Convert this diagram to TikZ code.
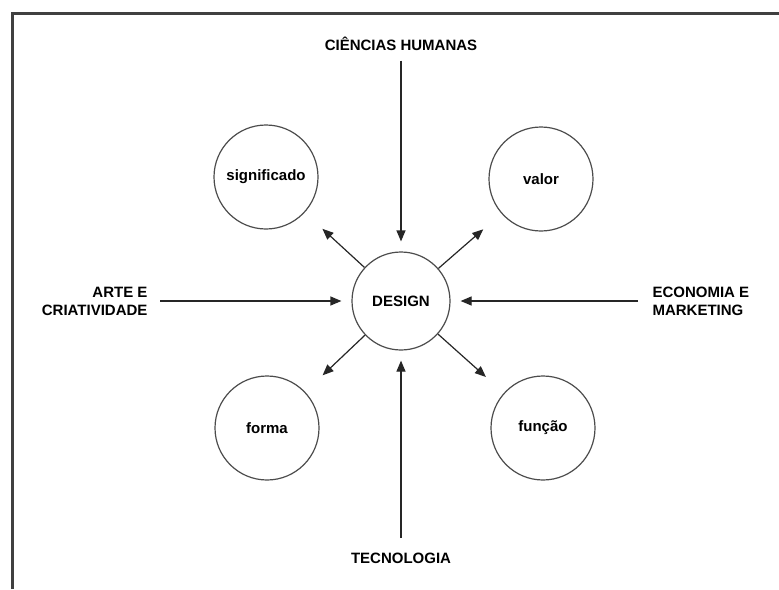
\documentclass[tikz,border=0pt]{standalone}
\usepackage{fontspec}
\setmainfont{Liberation Sans}
\usetikzlibrary{arrows.meta}

\begin{document}
\begin{tikzpicture}[x=1pt, y=-1pt,
	c/.style={circle, draw=black!70, line width=1.2pt, minimum size=104pt, inner sep=0pt, font=\bfseries\fontsize{15}{18}\selectfont},
	t/.style={font=\bfseries\fontsize{15}{18}\selectfont},
	a/.style={-{Triangle[length=11pt, width=9pt]}, line width=1.2pt, black!85}]
	\useasboundingbox (0,0) rectangle (779,589);
	\draw[line width=3pt, black!75] (12,589) -- (12,13) -- (779,13);

	\node[c, minimum size=98pt] (design) at (401,301) {DESIGN};
	\node[c] (sig) at (266,177) {significado};
	\node[c] (valor) at (541,179) {valor};
	\node[c] (forma) at (267,428) {forma};
	\node[c] (funcao) at (543,428) {função};

	\node[t, anchor=base] (cien) at (401,50) {CIÊNCIAS HUMANAS};
	\node[t, anchor=base] (tec) at (401,563) {TECNOLOGIA};
	\node[t, align=right, anchor=east] (arte) at (151,301) {ARTE E\\CRIATIVIDADE};
	\node[t, align=left, anchor=west] (eco) at (649,301) {ECONOMIA E\\MARKETING};

	\path[a] (design) edge[shorten >=24pt] (sig);
	\path[a] (design) edge[shorten >=24pt] (valor);
	\path[a] (design) edge[shorten >=24pt] (forma);
	\path[a] (design) edge[shorten >=24pt] (funcao);

	\path[a] (cien) edge[shorten <=7pt, shorten >=10pt] (design);
	\path[a] (tec) edge[shorten <=11pt, shorten >=10pt] (design);
	\path[a] (arte) edge[shorten <=9pt, shorten >=10pt] (design);
	\path[a] (eco) edge[shorten <=11pt, shorten >=10pt] (design);
\end{tikzpicture}
\end{document}
